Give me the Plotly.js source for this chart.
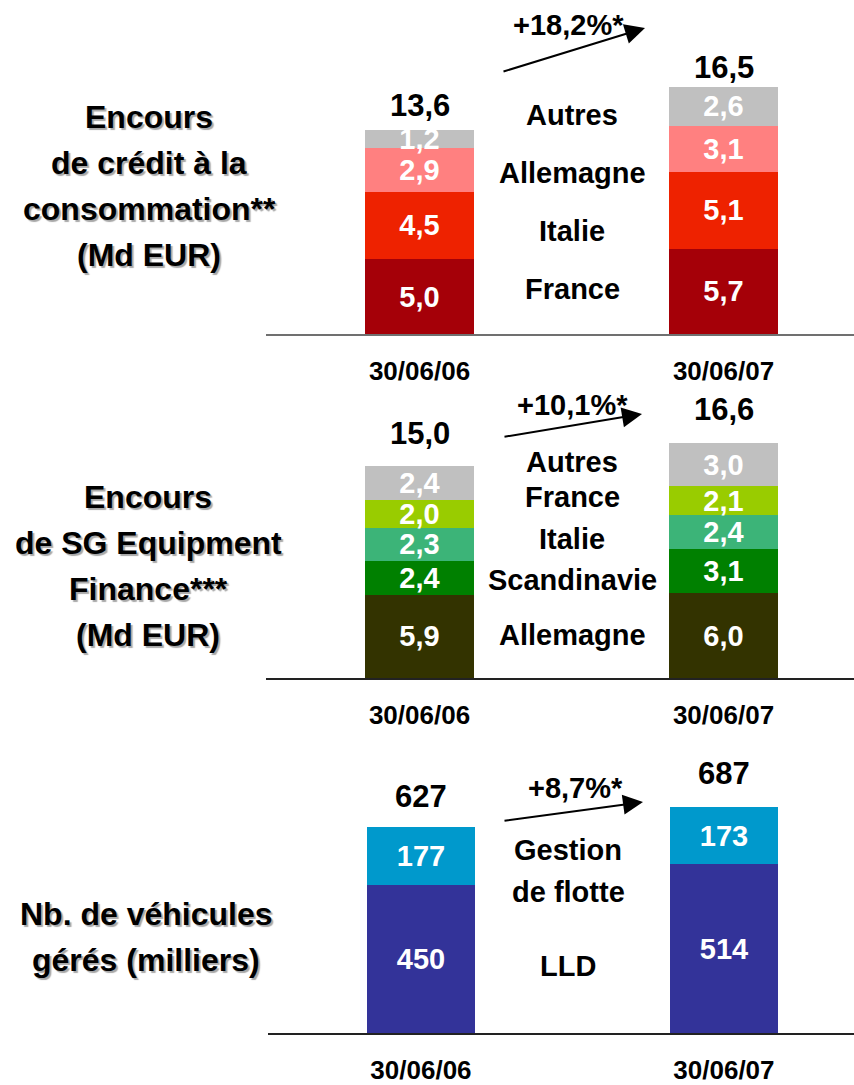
<!DOCTYPE html>
<html>
<head>
<meta charset="utf-8">
<script src="https://cdn.plot.ly/plotly-3.0.1.min.js"></script>
<style>
html,body{margin:0;padding:0;background:#fff;}
#chart{width:854px;height:1085px;}
</style>
</head>
<body>
<div id="chart"></div>
<script>
// ---------------- DATA ----------------
const dates = ["30/06/06", "30/06/07"];

// Panel 1 : Encours de crédit à la consommation (Md EUR)
const credit_series = ["France", "Italie", "Allemagne", "Autres"];
const credit_France = [5.0, 5.7];
const credit_Italie = [4.5, 5.1];
const credit_Allemagne = [2.9, 3.1];
const credit_Autres = [1.2, 2.6];
const credit_totals = [13.6, 16.5];
const credit_growth = "+18,2%*";
const credit_title = ["Encours", "de crédit à la", "consommation**", "(Md EUR)"];

// Panel 2 : Encours de SG Equipment Finance (Md EUR)
const sgef_series = ["Allemagne", "Scandinavie", "Italie", "France", "Autres"];
const sgef_Allemagne = [5.9, 6.0];
const sgef_Scandinavie = [2.4, 3.1];
const sgef_Italie = [2.3, 2.4];
const sgef_France = [2.0, 2.1];
const sgef_Autres = [2.4, 3.0];
const sgef_totals = [15.0, 16.6];
const sgef_growth = "+10,1%*";
const sgef_title = ["Encours", "de SG Equipment", "Finance***", "(Md EUR)"];

// Panel 3 : Nb. de véhicules gérés (milliers)
const veh_series = ["LLD", "Gestion de flotte"];
const veh_LLD = [450, 514];
const veh_Gestion = [177, 173];
const veh_totals = [627, 687];
const veh_growth = "+8,7%*";
const veh_title = ["Nb. de véhicules", "gérés (milliers)"];
const veh_middle = ["Gestion", "de flotte", "LLD"];

// ---------------- LAYOUT / STYLE ----------------
const W = 854, H = 1085;
const FONT = "Liberation Sans, Arial, sans-serif";
const py = p => 1 - p / H;
const pxx = p => p / W;

const fmt1 = v => v.toFixed(1).replace(".", ",");
const fmt0 = v => String(v);

const BARW = 109 / 304;
const valueFont = {family: FONT, size: 29, color: "#ffffff", weight: "bold"};

function barTrace(name, y, color, xa, ya, fmt) {
  return {
    type: "bar", name: name, x: dates, y: y,
    xaxis: xa, yaxis: ya,
    marker: {color: color, line: {width: 0}},
    width: BARW,
    text: y.map(fmt), textposition: "inside", insidetextanchor: "middle",
    textangle: 0, constraintext: "none",
    textfont: valueFont, hoverinfo: "skip", showlegend: false, cliponaxis: false
  };
}

const data = [
  barTrace(credit_series[0], credit_France, "#A50008", "x", "y", fmt1),
  barTrace(credit_series[1], credit_Italie, "#EE2200", "x", "y", fmt1),
  barTrace(credit_series[2], credit_Allemagne, "#FF8080", "x", "y", fmt1),
  barTrace(credit_series[3], credit_Autres, "#C0C0C0", "x", "y", fmt1),

  barTrace(sgef_series[0], sgef_Allemagne, "#333300", "x2", "y2", fmt1),
  barTrace(sgef_series[1], sgef_Scandinavie, "#008000", "x2", "y2", fmt1),
  barTrace(sgef_series[2], sgef_Italie, "#3CB478", "x2", "y2", fmt1),
  barTrace(sgef_series[3], sgef_France, "#99CC00", "x2", "y2", fmt1),
  barTrace(sgef_series[4], sgef_Autres, "#C0C0C0", "x2", "y2", fmt1),

  barTrace(veh_series[0], veh_LLD, "#333399", "x3", "y3", fmt0),
  barTrace(veh_series[1], veh_Gestion, "#0099CC", "x3", "y3", fmt0)
];

// axis geometry (pixel based)
function xax(left, lineColor) {
  return {
    domain: [pxx(left), 1], type: "category",
    range: [-(419.5 - 266) / 304, 1 + (854 - 723.5) / 304],
    showline: true, linecolor: lineColor, linewidth: 2,
    showgrid: false, zeroline: false, ticks: "",
    tickfont: {family: FONT, size: 26, color: "#000", weight: "bold"},
    ticklabelstandoff: 13, fixedrange: true
  };
}
function yax(top, base, pxPerUnit) {
  return {
    domain: [py(base), py(top)], range: [0, (base - top) / pxPerUnit],
    visible: false, showgrid: false, zeroline: false, fixedrange: true
  };
}

const annotations = [];
const titleFont = {family: FONT, size: 32, color: "#000", weight: "bold", shadow: "2px 2px 1px #a8a8a8"};
const midFont = {family: FONT, size: 29, color: "#000", weight: "bold"};
const totFont = {family: FONT, size: 31, color: "#000", weight: "bold"};
const growFont = {family: FONT, size: 29, color: "#000", weight: "bold"};

function paperText(text, x, y, font) {
  annotations.push({text: text, x: pxx(x), y: py(y), xref: "paper", yref: "paper",
    xanchor: "center", yanchor: "middle", showarrow: false, font: font});
}
function totals(vals, fmt, xa, ya, shifts) {
  vals.forEach((v, i) => annotations.push({
    text: fmt(v), x: dates[i], y: v, xref: xa, yref: ya, xanchor: "center", yanchor: "middle",
    yshift: shifts[i], showarrow: false, font: totFont}));
}
function arrow(tip, start) {
  annotations.push({text: "", x: pxx(tip[0]), y: py(tip[1]), xref: "paper", yref: "paper",
    showarrow: true, arrowhead: 2, arrowsize: 2, arrowwidth: 2, arrowcolor: "#000",
    ax: start[0] - tip[0], ay: start[1] - tip[1], standoff: 0});
}

// Panel 1
[117, 163, 209, 255].forEach((y, i) => paperText(credit_title[i], 149, y, titleFont));
[115, 173, 231, 289].forEach((y, i) => paperText(credit_series[3 - i], 572, y, midFont));
totals(credit_totals, fmt1, "x", "y", [25, 19]);
arrow([645, 28], [502, 72]);
paperText(credit_growth, 568, 25, growFont);

// Panel 2
[497, 543, 589, 635].forEach((y, i) => paperText(sgef_title[i], 148, y, titleFont));
[462, 497, 539, 580, 635].forEach((y, i) => paperText(sgef_series[4 - i], 572, y, midFont));
totals(sgef_totals, fmt1, "x2", "y2", [32, 34]);
arrow([642, 414], [503, 437]);
paperText(sgef_growth, 572, 405, growFont);

// Panel 3
[914, 960].forEach((y, i) => paperText(veh_title[i], 146, y, titleFont));
[850, 892, 966].forEach((y, i) => paperText(veh_middle[i], 568, y, midFont));
totals(veh_totals, fmt0, "x3", "y3", [31, 34]);
arrow([643, 802], [503, 821]);
paperText(veh_growth, 575, 788, growFont);

// white mask clipping the overflowing small-segment label above the first credit bar
const shapes = [{
  type: "rect", xref: "x", yref: "y", layer: "above",
  x0: -BARW / 2 - 0.01, x1: BARW / 2 + 0.01,
  y0: credit_totals[0], y1: credit_totals[0] + 0.8,
  fillcolor: "#ffffff", line: {width: 0}
}];

const layout = {
  width: W, height: H,
  margin: {l: 0, r: 0, t: 0, b: 0, pad: 0},
  paper_bgcolor: "#fff", plot_bgcolor: "rgba(0,0,0,0)",
  barmode: "stack", showlegend: false,
  font: {family: FONT},
  xaxis: xax(266, "#707070"), yaxis: yax(0, 334, 15),
  xaxis2: xax(266, "#222222"), yaxis2: yax(400, 678, 212 / 15),
  xaxis3: xax(268, "#222222"), yaxis3: yax(740, 1033, 206 / 627),
  annotations: annotations,
  shapes: shapes
};
layout.xaxis2.anchor = "y2"; layout.yaxis2.anchor = "x2";
layout.xaxis3.anchor = "y3"; layout.yaxis3.anchor = "x3";

Plotly.newPlot("chart", data, layout, {staticPlot: true, displayModeBar: false});
</script>
</body>
</html>
